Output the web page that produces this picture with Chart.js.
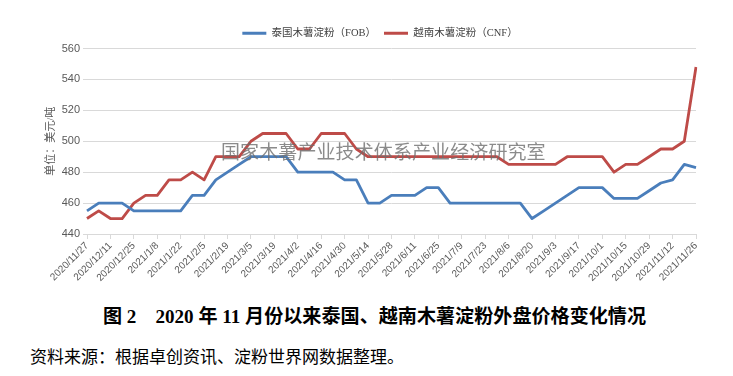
<!DOCTYPE html>
<html>
<head>
<meta charset="utf-8">
<script src="https://cdn.jsdelivr.net/npm/chart.js@4/dist/chart.umd.min.js"></script>
<style>
  html, body { margin: 0; padding: 0; background: #ffffff; }
  body { width: 733px; height: 376px; position: relative; overflow: hidden; }
  #wrap { position: absolute; left: 0; top: 0; width: 733px; height: 295px; }
  #wm { position: absolute; left: 221px; top: 137px; font-family: "Noto Sans CJK SC", sans-serif; font-size: 19px; color: rgba(110,110,110,0.8); white-space: nowrap; letter-spacing: 0.1px; pointer-events: none; }
  #cap { position: absolute; left: 8px; width: 733px; top: 301px; text-align: center; font-family: "Liberation Serif", "Noto Sans CJK SC", serif; font-weight: bold; font-size: 19.1px; color: #000; white-space: pre; }
  #src { position: absolute; left: 30px; top: 343px; font-family: "Liberation Serif", "Noto Sans CJK SC", serif; font-size: 17px; color: #000; white-space: nowrap; }
</style>
</head>
<body>
<div id="wrap"><canvas id="c"></canvas></div>
<div id="wm">国家木薯产业技术体系产业经济研究室</div>
<div id="cap">图 2　2020 年 11 月份以来泰国、越南木薯淀粉外盘价格变化情况</div>
<div id="src">资料来源：根据卓创资讯、淀粉世界网数据整理。</div>
<script>
const dates = [
  "2020/11/27","2020/12/4","2020/12/11","2020/12/18","2020/12/25",
  "2021/1/1","2021/1/8","2021/1/15","2021/1/22","2021/1/29",
  "2021/2/5","2021/2/12","2021/2/19","2021/2/26",
  "2021/3/5","2021/3/12","2021/3/19","2021/3/26",
  "2021/4/2","2021/4/9","2021/4/16","2021/4/23","2021/4/30",
  "2021/5/7","2021/5/14","2021/5/21","2021/5/28",
  "2021/6/4","2021/6/11","2021/6/18","2021/6/25",
  "2021/7/2","2021/7/9","2021/7/16","2021/7/23","2021/7/30",
  "2021/8/6","2021/8/13","2021/8/20","2021/8/27",
  "2021/9/3","2021/9/10","2021/9/17","2021/9/24",
  "2021/10/1","2021/10/8","2021/10/15","2021/10/22","2021/10/29",
  "2021/11/5","2021/11/12","2021/11/19","2021/11/26"
];
const thailandFOB = [
  455,460,460,460,455,455,455,455,455,465,465,475,480,485,490,490,490,490,
  480,480,480,480,475,475,460,460,465,465,465,470,470,460,460,460,460,460,
  460,460,450,455,460,465,470,470,470,463,463,463,468,473,475,485,483
];
const vietnamCNF = [
  450,455,450,450,460,465,465,475,475,480,475,490,490,490,500,505,505,505,
  495,495,505,505,505,495,490,490,490,490,490,490,490,490,490,490,490,490,
  485,485,485,485,485,490,490,490,490,480,485,485,490,495,495,500,548
];
const seriesNames = ["泰国木薯淀粉（FOB）", "越南木薯淀粉（CNF）"];
const yTitle = "单位：美元/吨";
const yMin = 440, yMax = 560, yStep = 20;

const tickColor = "#595959";
const gridColor = "#d9d9d9";
const cjkSerif = "'Liberation Serif', 'Noto Sans CJK SC', serif";
const latinSans = "'Liberation Sans', Arial, sans-serif";

const legendShift = {
  id: "legendShift",
  afterLayout(chart) {
    if (chart.legend) { chart.legend.left += 11; chart.legend.right += 11; }
  }
};

new Chart(document.getElementById("c"), {
  type: "line",
  data: {
    labels: dates,
    datasets: [
      { label: seriesNames[0], data: thailandFOB, borderColor: "#4a7ebb", backgroundColor: "#4a7ebb",
        borderWidth: 2.8, pointRadius: 0, tension: 0, borderJoinStyle: "round" },
      { label: seriesNames[1], data: vietnamCNF, borderColor: "#be4b48", backgroundColor: "#be4b48",
        borderWidth: 2.8, pointRadius: 0, tension: 0, borderJoinStyle: "round" }
    ]
  },
  plugins: [legendShift],
  options: {
    responsive: true,
    maintainAspectRatio: false,
    animation: false,
    events: [],
    layout: { padding: { left: 42, right: 37, top: 20, bottom: 0 } },
    plugins: {
      tooltip: { enabled: false },
      legend: {
        position: "top",
        labels: {
          usePointStyle: true,
          pointStyleWidth: 24,
          pointStyle: "line",
          color: "#404040",
          padding: 8,
          font: { family: cjkSerif, size: 10.5 }
        }
      }
    },
    scales: {
      x: {
        type: "category",
        offset: false,
        grid: {
          drawOnChartArea: false,
          drawTicks: true,
          tickLength: 5,
          color: (ctx) => (ctx.index % 2 === 0 ? gridColor : "rgba(0,0,0,0)")
        },
        border: { display: true, color: gridColor, width: 1 },
        ticks: {
          autoSkip: false,
          minRotation: 45,
          maxRotation: 45,
          padding: 1,
          color: tickColor,
          font: { family: latinSans, size: 10 },
          callback: function (value, index) { return index % 2 === 0 ? this.getLabelForValue(value) : ""; }
        },
        afterFit: (scale) => { scale.height = 61; }
      },
      y: {
        min: yMin,
        max: yMax,
        grid: { color: gridColor, tickLength: 4, drawTicks: true },
        border: { display: false },
        ticks: {
          stepSize: yStep,
          padding: 3,
          color: tickColor,
          font: { family: latinSans, size: 11 }
        },
        title: {
          display: true,
          text: yTitle,
          color: tickColor,
          padding: { top: 3, bottom: 0 },
          font: { family: cjkSerif, size: 11 }
        },
        afterFit: (scale) => { scale.width = 45; }
      }
    }
  }
});
</script>
</body>
</html>
